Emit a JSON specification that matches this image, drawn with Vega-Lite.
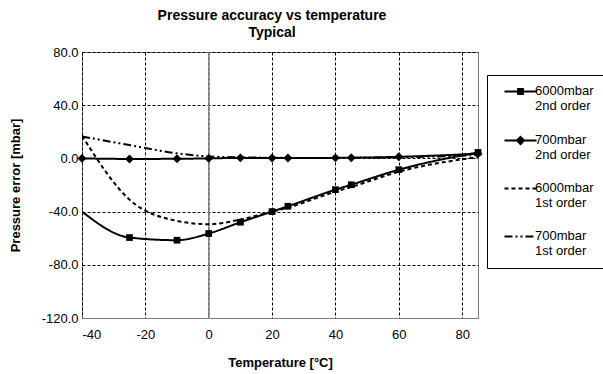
{
  "$schema": "https://vega.github.io/schema/vega-lite/v6.json",
  "width": 396,
  "height": 266,
  "autosize": {"type": "none"},
  "padding": {"left": 82, "top": 52, "right": 125, "bottom": 56},
  "background": "white",
  "title": {
    "text": ["Pressure accuracy vs temperature", "Typical"],
    "font": "Liberation Sans",
    "fontSize": 14,
    "fontWeight": "bold",
    "lineHeight": 17,
    "offset": 6,
    "dx": -8,
    "anchor": "middle",
    "color": "black"
  },
  "config": {
    "font": "Liberation Sans",
    "view": {"stroke": "#808080", "strokeWidth": 1},
    "axis": {
      "labelFont": "Liberation Sans",
      "labelFontSize": 13,
      "labelColor": "black",
      "titleFont": "Liberation Sans",
      "titleFontSize": 13,
      "titleFontWeight": "bold",
      "titleColor": "black",
      "domain": false,
      "ticks": false,
      "gridDash": [3, 2],
      "gridWidth": 1,
      "gridOpacity": 1
    }
  },
  "data": {
    "values": [
      {"T": -40, "P": -40, "s": "6000mbar|2nd order"},
      {"T": -25, "P": -59.5, "s": "6000mbar|2nd order"},
      {"T": -10, "P": -61.5, "s": "6000mbar|2nd order"},
      {"T": 0, "P": -56.5, "s": "6000mbar|2nd order"},
      {"T": 10, "P": -48, "s": "6000mbar|2nd order"},
      {"T": 20, "P": -40, "s": "6000mbar|2nd order"},
      {"T": 25, "P": -36, "s": "6000mbar|2nd order"},
      {"T": 40, "P": -23.5, "s": "6000mbar|2nd order"},
      {"T": 45, "P": -19.8, "s": "6000mbar|2nd order"},
      {"T": 60, "P": -8.5, "s": "6000mbar|2nd order"},
      {"T": 85, "P": 4.5, "s": "6000mbar|2nd order"},
      {"T": -40, "P": 0, "s": "700mbar|2nd order"},
      {"T": -25, "P": -0.4, "s": "700mbar|2nd order"},
      {"T": -10, "P": -0.3, "s": "700mbar|2nd order"},
      {"T": 0, "P": 0, "s": "700mbar|2nd order"},
      {"T": 10, "P": 0.4, "s": "700mbar|2nd order"},
      {"T": 20, "P": 0.3, "s": "700mbar|2nd order"},
      {"T": 25, "P": 0.3, "s": "700mbar|2nd order"},
      {"T": 40, "P": 0.4, "s": "700mbar|2nd order"},
      {"T": 45, "P": 0.5, "s": "700mbar|2nd order"},
      {"T": 60, "P": 1.2, "s": "700mbar|2nd order"},
      {"T": 85, "P": 3.5, "s": "700mbar|2nd order"},
      {"T": -40, "P": 17, "s": "6000mbar|1st order"},
      {"T": -25, "P": -31, "s": "6000mbar|1st order"},
      {"T": -10, "P": -47, "s": "6000mbar|1st order"},
      {"T": 0, "P": -49.5, "s": "6000mbar|1st order"},
      {"T": 10, "P": -46, "s": "6000mbar|1st order"},
      {"T": 20, "P": -40, "s": "6000mbar|1st order"},
      {"T": 25, "P": -37, "s": "6000mbar|1st order"},
      {"T": 40, "P": -25, "s": "6000mbar|1st order"},
      {"T": 45, "P": -21.5, "s": "6000mbar|1st order"},
      {"T": 60, "P": -10, "s": "6000mbar|1st order"},
      {"T": 85, "P": 1, "s": "6000mbar|1st order"},
      {"T": -40, "P": 16.5, "s": "700mbar|1st order"},
      {"T": -25, "P": 10, "s": "700mbar|1st order"},
      {"T": -10, "P": 3.8, "s": "700mbar|1st order"},
      {"T": 0, "P": 1.5, "s": "700mbar|1st order"},
      {"T": 10, "P": 0.8, "s": "700mbar|1st order"},
      {"T": 20, "P": 0.5, "s": "700mbar|1st order"},
      {"T": 25, "P": 0.4, "s": "700mbar|1st order"},
      {"T": 40, "P": 0.3, "s": "700mbar|1st order"},
      {"T": 45, "P": 0.4, "s": "700mbar|1st order"},
      {"T": 60, "P": 0.8, "s": "700mbar|1st order"},
      {"T": 85, "P": 2.5, "s": "700mbar|1st order"}
    ]
  },
  "encoding": {
    "x": {
      "field": "T",
      "type": "quantitative",
      "scale": {"domain": [-40, 85], "nice": false, "zero": false},
      "axis": {
        "title": "Temperature [°C]",
        "values": [-40, -20, 0, 20, 40, 60, 80],
        "labelExpr": "replace(format(datum.value, 'd'), '\u2212', '-')",
        "labelPadding": 10,
        "titlePadding": 15,
        "gridColor": {"condition": {"test": "datum.value === 0", "value": "#808080"}, "value": "black"}
      }
    },
    "y": {
      "field": "P",
      "type": "quantitative",
      "scale": {"domain": [-120, 80], "nice": false, "zero": false},
      "axis": {
        "title": "Pressure error [mbar]",
        "values": [-120, -80, -40, 0, 40, 80],
        "labelExpr": "replace(format(datum.value, '.1f'), '\u2212', '-')",
        "labelPadding": 4,
        "titlePadding": 19,
        "gridColor": {"condition": {"test": "datum.value === -120", "value": "#808080"}, "value": "black"}
      }
    }
  },
  "layer": [
    {
      "data": {"values": [{"T": 0}]},
      "mark": {"type": "rule", "color": "#808080", "strokeWidth": 1.5},
      "encoding": {"x": {"field": "T", "type": "quantitative"}, "y": null}
    },
    {
      "mark": {"type": "line", "interpolate": "monotone", "color": "black", "clip": true},
      "encoding": {
        "strokeDash": {
          "field": "s",
          "type": "nominal",
          "scale": {
            "domain": ["6000mbar|2nd order", "700mbar|2nd order", "6000mbar|1st order", "700mbar|1st order"],
            "range": [[1, 0], [1, 0], [4, 3], [8, 3, 2, 3, 2, 3]]
          },
          "legend": {
            "title": null,
            "orient": "none",
            "legendX": 405,
            "legendY": 23,
            "labelExpr": "split(datum.label, '|')",
            "labelFont": "Liberation Sans",
            "labelFontSize": 13,
            "labelColor": "black",
            "labelLimit": 0,
            "labelOffset": 8,
            "labelBaseline": "top",
            "symbolSize": 64,
            "symbolOffset": 17,
            "symbolType": "stroke",
            "symbolStrokeColor": "black",
            "strokeColor": "black",
            "fillColor": "white",
            "padding": 10,
            "rowPadding": 19,
            "encode": {
              "symbols": {
                "update": {
                  "shape": {"signal": "datum.value === '6000mbar|2nd order' ? 'M-4,0H4M-0.6,-0.6H0.6V0.6H-0.6Z' : datum.value === '700mbar|2nd order' ? 'M-4,0H4M0,-0.9L0.9,0L0,0.9L-0.9,0Z' : 'M-4,0H4'"},
                  "fill": {"value": "black"},
                  "stroke": {"value": "black"},
                  "strokeWidth": {"signal": "indexof(datum.value, '2nd') >= 0 ? 2 : 1"}
                }
              },
              "labels": {
                "update": {
                  "lineHeight": {"value": 15},
                  "dy": {"value": -7}
                }
              }
            }
          }
        },
        "strokeWidth": {
          "field": "s",
          "type": "nominal",
          "scale": {
            "domain": ["6000mbar|2nd order", "700mbar|2nd order", "6000mbar|1st order", "700mbar|1st order"],
            "range": [2, 2, 1, 1]
          },
          "legend": null
        }
      }
    },
    {
      "transform": [{"filter": "indexof(datum.s, '2nd') >= 0 && !(datum.T === -40 && datum.s === '6000mbar|2nd order')"}],
      "mark": {"type": "point", "filled": true, "opacity": 1, "color": "black"},
      "encoding": {
        "shape": {
          "field": "s",
          "type": "nominal",
          "scale": {"domain": ["6000mbar|2nd order", "700mbar|2nd order"], "range": ["square", "diamond"]},
          "legend": null
        },
        "size": {
          "field": "s",
          "type": "nominal",
          "scale": {"domain": ["6000mbar|2nd order", "700mbar|2nd order"], "range": [45, 80]},
          "legend": null
        }
      }
    }
  ]
}
